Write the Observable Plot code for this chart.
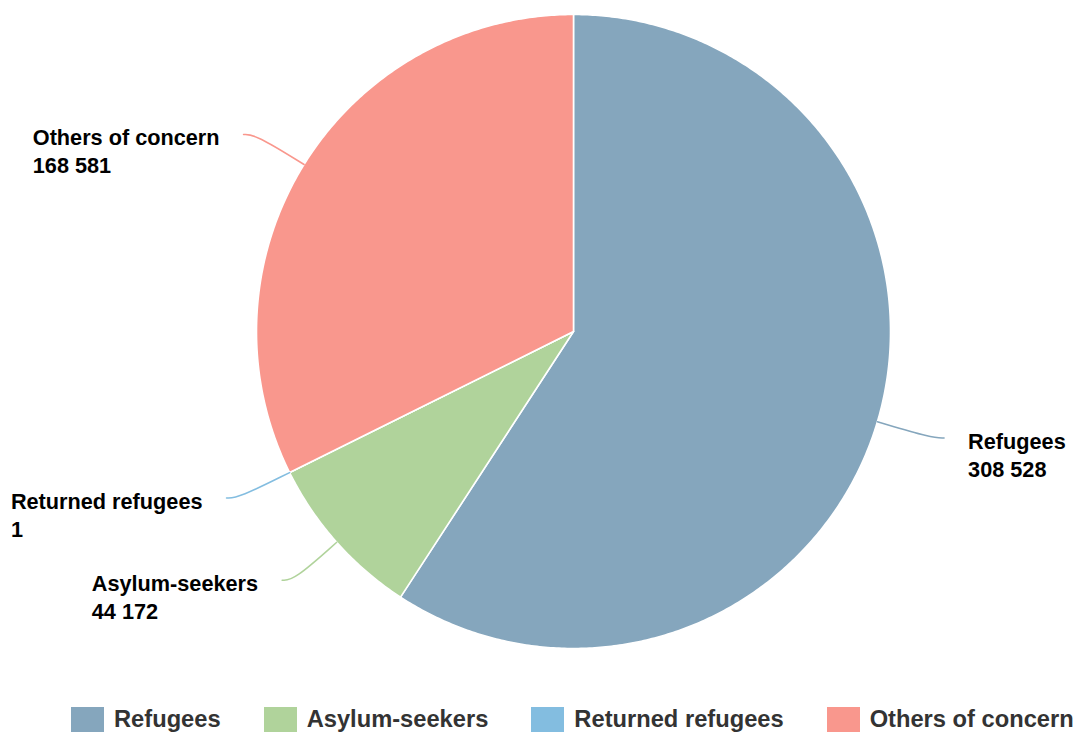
<!DOCTYPE html>
<html>
<head>
<meta charset="utf-8">
<script src="https://cdn.jsdelivr.net/npm/d3@7"></script>
<script src="https://cdn.jsdelivr.net/npm/@observablehq/plot@0.6"></script>
<style>
  html, body { margin: 0; padding: 0; background: #fff; }
  #chart svg { display: block; }
  .lg-swatches { font-family: "Liberation Sans", Arial, sans-serif; font-weight: bold; font-size: 23.7px; color: #333; margin: 7px 0 0 71px; min-height: 0; height: 25px; line-height: 25px; flex-wrap: nowrap; }
  .lg-swatch { margin-right: 43px; white-space: nowrap; }
  .lg-swatch > svg { margin-right: 10px; }
</style>
</head>
<body>
<div id="chart"></div>
<script>
// ---- data ----
const categories = ["Refugees", "Asylum-seekers", "Returned refugees", "Others of concern"];
const values = [308528, 44172, 1, 168581];
const colors = ["#85a6bd", "#b0d39b", "#83bde0", "#f9978d"];

// ---- layout constants ----
const W = 1078, H = 700;
const CX = 573, CY = 331, R = 317;
const FONT = "'Liberation Sans', Arial, sans-serif";
const LABEL_SIZE = 21.7;

const fmt = d3.formatLocale({decimal: ".", thousands: " ", grouping: [3], currency: ["", ""]}).format(",d");

const rows = categories.map((name, i) => ({name, value: values[i]}));
const arcs = d3.pie().sort(null).value(d => d.value)(rows);

// slice polygons (unit circle, angle clockwise from top)
const pt = (a, r) => ({x: r * Math.sin(a), y: r * Math.cos(a)});
const slicePts = [];
for (const a of arcs) {
  const name = a.data.name;
  slicePts.push({name, ...pt(0, 0)});
  const n = Math.max(2, Math.ceil((a.endAngle - a.startAngle) / (Math.PI / 360)));
  for (let k = 0; k <= n; k++) {
    const t = a.startAngle + (a.endAngle - a.startAngle) * k / n;
    slicePts.push({name, ...pt(t, 1)});
  }
}

// connectors and labels
const ctx = document.createElement("canvas").getContext("2d");
ctx.font = `bold ${LABEL_SIZE}px ${FONT}`;
const connPts = [];
const labels = [];
const RB = 1.18, H_OFF = 12 / R, GAP = 24 / R;
for (const a of arcs) {
  const name = a.data.name;
  const mid = (a.startAngle + a.endAngle) / 2;
  const p0 = pt(mid, 1);
  const p1 = pt(mid, RB);
  const side = Math.sin(mid) >= 0 ? 1 : -1;
  const p2 = {x: p1.x + side * H_OFF, y: p1.y};
  connPts.push({name, ...p0}, {name, ...p1}, {name, ...p2});
  const valueText = fmt(a.data.value);
  const w = Math.max(ctx.measureText(name).width, ctx.measureText(valueText).width) / R;
  const lx = side > 0 ? p2.x + GAP : p2.x - GAP - w;
  labels.push({name, valueText, x: lx, y: p2.y});
}

const plot = Plot.plot({
  width: W, height: H, margin: 0,
  style: {fontFamily: FONT, background: "white"},
  x: {domain: [-1, 1], range: [CX - R, CX + R], axis: null},
  y: {domain: [-1, 1], range: [CY + R, CY - R], axis: null},
  color: {domain: categories, range: colors},
  marks: [
    Plot.line(slicePts, {x: "x", y: "y", z: "name", fill: "name", stroke: "white", strokeWidth: 1.6, strokeLinejoin: "round", curve: "linear-closed"}),
    Plot.line(connPts, {x: "x", y: "y", z: "name", stroke: "name", strokeWidth: 1.5, curve: "basis"}),
    Plot.text(labels, {x: "x", y: "y", text: "name", textAnchor: "start", dy: 4, fontSize: LABEL_SIZE, fontWeight: "bold", fill: "black"}),
    Plot.text(labels, {x: "x", y: "y", text: "valueText", textAnchor: "start", dy: 32, fontSize: LABEL_SIZE, fontWeight: "bold", fill: "black"})
  ]
});
document.getElementById("chart").appendChild(plot);

const legend = Plot.legend({
  color: {domain: categories, range: colors},
  swatchWidth: 33, swatchHeight: 25, className: "lg"
});
document.getElementById("chart").appendChild(legend);
</script>
</body>
</html>
